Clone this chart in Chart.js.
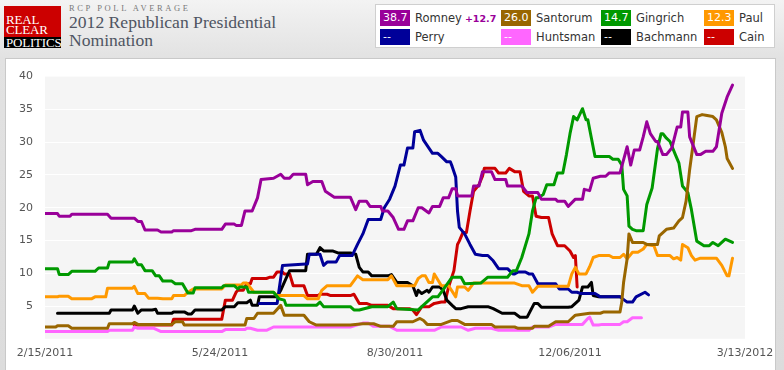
<!DOCTYPE html>
<html>
<head>
<meta charset="utf-8">
<script src="https://cdn.jsdelivr.net/npm/chart.js@4.4.1/dist/chart.umd.min.js"></script>
<style>
  html, body { margin:0; padding:0; }
  body { width:784px; height:370px; overflow:hidden; position:relative;
         background: linear-gradient(#f3f3f3 0px, #e2e2e2 58px, #dcdcdc 370px);
         font-family: "DejaVu Sans", Verdana, sans-serif; }
  #logo { position:absolute; left:4px; top:6px; width:57px; height:42px; overflow:hidden; }
  #logo .red { background:#cc0000; height:31px; }
  #logo .blk { background:#000; height:11px; }
  #logo span { position:absolute; left:2px; color:#fff; font-family:"Liberation Serif", serif; font-size:13px; line-height:10px; letter-spacing:-0.2px; }
  #kicker { position:absolute; left:69px; top:3px; font-family:"Liberation Serif", serif; font-size:8.5px; letter-spacing:2.6px; color:#7a7a7a; }
  #title { position:absolute; left:69px; top:13px; font-family:"Liberation Serif", serif; font-size:17.6px; line-height:18px; color:#4f5562; }
  #legend { position:absolute; left:375px; top:4px; width:400px; height:44px; background:#fff; border:1px solid #cfcfcf; box-sizing:border-box; }
  .li { position:absolute; height:16px; font-size:11.5px; color:#333; white-space:nowrap; }
  .li .box { position:absolute; left:0; top:0; width:30px; height:16px; color:#fff; font-size:11px; line-height:16px; padding-left:3px; box-sizing:border-box; overflow:hidden; }
  .li .nm { position:absolute; left:35px; top:0; line-height:16px; }
  .li .chg { font-size:9.5px; font-weight:bold; margin-left:3px; }
  #panel { position:absolute; left:5px; top:58px; width:769px; height:330px; background:#fff; border:1px solid #c9c9c9; }
  #wrap { position:absolute; left:0; top:58px; width:784px; height:312px; }
</style>
</head>
<body>
<div id="logo">
  <div class="red"></div><div class="blk"></div>
  <span style="top:9px">REAL</span>
  <span style="top:19px">CLEAR</span>
  <span style="top:32px">POLITICS</span>
</div>
<div id="kicker">RCP POLL AVERAGE</div>
<div id="title">2012 Republican Presidential<br>Nomination</div>
<div id="legend"></div>
<div id="panel"></div>
<div id="wrap"><canvas id="c" width="784" height="312"></canvas></div>
<script>
// ---- Data (x = days since 2/15/2011, y = poll average %) ----
const tickDays   = [0, 98, 196, 294, 392];
const tickLabels = ["2/15/2011", "5/24/2011", "8/30/2011", "12/06/2011", "3/13/2012"];

const candidates   = ["Romney", "Santorum", "Gingrich", "Paul", "Perry", "Huntsman", "Bachmann", "Cain"];
const colors       = ["#990099", "#996600", "#009900", "#ff9900", "#000099", "#ff66ff", "#000000", "#cc0000"];
const latestValues = ["38.7", "26.0", "14.7", "12.3", "--", "--", "--", "--"];
const spreadText   = "+12.7";

const romney = [[0,19.1],[7,19.1],[8,18.7],[14,18.7],[15,19.0],[35,19.0],[37,18.4],[50,18.4],[52,17.9],[54,17.9],[56,16.6],[63,16.6],[65,16.3],[71,16.3],[72,16.5],[82,16.5],[84,16.7],[99,16.7],[101,17.5],[106,17.5],[107,17.3],[110,17.3],[112,19.5],[116,19.5],[119,21.5],[121,24.3],[128,24.5],[132,25.1],[134,24.5],[137,24.5],[139,25.1],[146,25.1],[147,23.5],[150,24.0],[155,24.0],[157,22.5],[162,21.6],[171,21.6],[174,19.7],[176,21.0],[180,21.0],[182,20.2],[188,20.2],[189,19.5],[192,19.5],[195,18.5],[198,16.7],[201,16.7],[203,18.0],[206,18.0],[209,20.0],[211,20.0],[215,19.2],[217,20.2],[221,20.2],[223,21.5],[226,21.5],[228,22.9],[230,22.9],[231,21.8],[239,21.8],[240,23.3],[243,23.3],[245,25.5],[250,25.5],[252,24.3],[258,24.3],[259,23.3],[267,23.3],[270,22.3],[276,22.3],[278,21.3],[286,21.3],[287,21.0],[291,21.0],[293,20.2],[297,21.3],[301,21.3],[302,22.8],[305,22.6],[307,24.5],[311,24.8],[314,24.8],[316,25.3],[322,25.3],[324,27.3],[326,29.3],[328,26.5],[330,28.8],[333,28.8],[335,30.8],[337,33.1],[339,31.3],[342,30.1],[343,30.1],[346,28.1],[348,28.1],[351,29.1],[354,32.3],[356,32.3],[357,34.6],[360,34.6],[361,30.8],[365,28.1],[367,28.1],[370,28.6],[374,28.6],[376,29.3],[379,34.4],[382,36.9],[385,38.7]];
const santorum = [[0,1.8],[6,1.8],[7,2.0],[13,2.0],[15,1.6],[35,1.6],[36,2.3],[49,2.3],[50,2.5],[52,2.2],[71,2.2],[73,2.6],[77,2.6],[78,2.1],[112,2.1],[113,3.1],[117,3.1],[119,3.9],[128,3.9],[132,5.1],[134,3.6],[145,3.6],[148,2.6],[152,2.1],[171,2.1],[178,2.3],[184,2.3],[188,1.9],[195,1.9],[197,2.6],[206,2.6],[210,3.1],[212,2.8],[214,2.2],[222,2.2],[228,2.8],[231,2.8],[235,2.2],[250,2.2],[252,1.8],[263,1.8],[265,1.6],[273,1.6],[274,1.9],[282,1.9],[286,2.6],[293,2.6],[297,3.6],[305,3.9],[311,3.9],[313,4.1],[322,4.1],[323,5.6],[324,8.6],[326,12.2],[327,16.0],[329,14.7],[335,14.7],[337,14.4],[343,14.4],[344,15.7],[348,16.7],[352,16.9],[355,18.0],[357,18.5],[359,21.0],[361,25.8],[363,29.8],[365,33.9],[368,34.2],[370,34.1],[374,33.9],[376,33.4],[379,31.5],[381,29.3],[382,27.5],[385,26.0]];
const gingrich = [[0,10.7],[7,10.7],[8,9.8],[13,9.8],[15,10.3],[28,10.3],[30,10.8],[35,10.8],[36,11.7],[49,11.7],[50,12.2],[52,11.3],[54,11.3],[56,10.4],[60,10.4],[62,9.6],[64,9.6],[66,8.8],[71,8.8],[73,8.4],[77,8.4],[80,7.0],[83,7.0],[84,7.8],[99,7.8],[100,8.1],[106,8.1],[108,7.6],[109,7.9],[113,7.9],[114,7.1],[128,7.1],[131,6.1],[134,5.9],[135,5.1],[152,5.1],[154,5.6],[156,4.9],[171,4.9],[173,4.4],[176,4.4],[183,4.9],[192,4.9],[195,5.6],[197,4.6],[209,4.4],[213,5.4],[217,6.4],[220,6.4],[224,7.9],[228,9.4],[233,9.4],[235,8.4],[244,8.5],[248,9.4],[259,9.4],[262,10.4],[264,10.4],[267,12.4],[271,16.0],[273,19.5],[275,21.5],[276,21.5],[279,22.0],[281,23.5],[285,23.5],[287,25.3],[290,25.3],[292,28.1],[294,31.3],[296,33.9],[298,33.4],[301,35.1],[303,33.4],[304,33.4],[306,30.6],[308,27.8],[316,27.8],[318,27.4],[321,27.4],[323,26.5],[324,22.8],[326,21.8],[327,17.2],[329,16.7],[331,16.5],[335,16.5],[337,20.5],[340,23.0],[343,29.0],[345,31.3],[346,31.3],[348,30.6],[350,30.1],[353,28.1],[355,26.8],[357,23.3],[360,22.3],[362,19.7],[365,14.9],[369,14.2],[372,14.2],[374,14.7],[377,14.2],[381,15.2],[385,14.7]];
const paul     = [[0,6.4],[7,6.4],[8,6.5],[13,6.5],[15,6.1],[26,6.1],[28,6.4],[34,6.4],[35,7.7],[49,7.7],[50,8.0],[52,6.9],[56,6.9],[58,6.2],[63,6.2],[66,6.1],[71,6.1],[72,6.6],[78,6.6],[80,7.1],[83,7.6],[99,7.6],[101,8.2],[110,8.2],[111,8.5],[113,8.5],[117,7.1],[128,7.1],[130,6.6],[145,6.6],[147,6.1],[153,6.1],[155,7.4],[158,8.1],[171,8.1],[175,9.6],[178,9.0],[192,9.0],[194,9.6],[197,8.1],[207,8.1],[209,9.2],[211,9.6],[213,9.6],[215,8.6],[217,8.6],[218,9.9],[222,8.1],[226,8.1],[230,6.4],[231,7.9],[235,7.9],[237,7.4],[240,8.5],[263,8.5],[267,8.1],[271,8.1],[273,7.1],[276,8.0],[293,8.0],[295,9.9],[297,10.9],[299,9.9],[303,9.9],[305,11.0],[307,12.4],[310,12.7],[316,12.7],[318,12.4],[322,12.4],[324,12.9],[326,12.2],[329,13.2],[332,13.2],[335,13.7],[337,14.4],[341,14.2],[343,12.7],[350,12.7],[352,12.2],[354,12.4],[356,12.0],[357,14.4],[360,13.9],[362,12.7],[364,12.0],[367,12.3],[376,12.3],[379,11.2],[382,9.6],[383,9.6],[385,12.3]];
const perry    = [[120,5.4],[130,5.4],[133,11.2],[146,11.4],[147,11.4],[148,12.9],[154,12.9],[156,11.2],[158,11.7],[163,11.7],[165,12.7],[172,12.7],[175,14.4],[178,16.0],[181,18.2],[188,18.2],[190,20.0],[193,21.3],[196,23.3],[199,26.5],[201,26.5],[203,29.1],[206,29.1],[207,31.6],[210,31.8],[212,30.3],[215,29.1],[217,28.3],[220,28.3],[222,27.8],[225,27.0],[227,27.0],[228,26.3],[230,24.7],[231,19.5],[232,17.0],[235,16.0],[238,14.4],[241,12.9],[245,12.7],[248,12.7],[251,11.9],[254,10.7],[259,10.7],[262,9.9],[263,9.9],[265,10.2],[269,10.2],[271,9.9],[273,9.9],[276,8.4],[286,8.4],[288,7.6],[293,7.6],[295,7.1],[298,7.1],[300,6.9],[308,6.9],[311,6.4],[322,6.4],[326,5.6],[329,5.6],[331,6.4],[336,7.1],[338,6.7]];
const huntsman = [[0,1.1],[35,1.1],[36,1.3],[49,1.3],[50,1.8],[52,1.6],[61,1.6],[65,1.1],[99,1.1],[101,1.4],[112,1.4],[113,1.6],[115,1.6],[119,1.3],[124,1.3],[128,1.8],[171,1.8],[178,2.4],[181,2.4],[184,1.9],[193,1.9],[197,1.3],[218,1.3],[222,1.8],[233,1.8],[237,1.3],[241,1.6],[250,1.6],[254,1.3],[271,1.3],[273,1.8],[282,1.8],[286,2.2],[301,2.2],[304,3.1],[305,3.3],[307,2.1],[310,2.1],[312,2.2],[322,2.2],[324,2.6],[326,2.6],[329,3.2],[334,3.2]];
const bachmann = [[7,3.9],[36,3.9],[37,4.4],[49,4.4],[50,5.0],[52,3.9],[54,4.4],[60,4.4],[62,4.5],[63,3.9],[71,3.9],[72,4.1],[78,4.1],[80,3.8],[82,3.8],[84,4.4],[99,4.4],[101,4.9],[106,4.9],[108,5.5],[113,5.5],[115,5.9],[116,5.1],[119,5.1],[120,6.4],[130,6.4],[132,7.4],[135,9.2],[137,10.4],[146,10.4],[147,12.9],[152,12.9],[154,13.9],[156,13.4],[161,13.4],[164,13.1],[171,13.1],[174,12.9],[176,10.9],[178,10.2],[181,10.2],[183,9.6],[192,9.6],[194,9.8],[197,8.6],[203,8.6],[206,8.1],[208,6.6],[209,7.4],[211,6.9],[214,7.4],[215,7.1],[217,7.9],[221,7.9],[223,7.4],[225,5.9],[228,5.1],[230,4.6],[233,4.6],[237,4.9],[248,4.9],[251,4.6],[256,3.9],[263,3.9],[266,3.3],[270,3.3],[274,5.4],[276,5.4],[278,4.8],[293,4.8],[295,4.9],[299,5.9],[301,7.9],[304,7.9],[306,8.6],[307,6.6],[310,6.4],[322,6.4]];
const cain     = [[50,2.1],[71,2.1],[72,3.0],[99,3.0],[101,5.9],[105,5.9],[107,7.1],[108,7.4],[111,7.4],[113,8.4],[115,8.4],[116,9.2],[124,9.2],[126,9.4],[128,9.4],[130,10.2],[133,10.2],[134,9.9],[137,9.9],[139,8.1],[145,8.1],[147,6.6],[153,6.6],[154,6.8],[158,6.8],[160,6.6],[171,6.6],[173,6.8],[176,5.4],[180,5.4],[183,5.1],[192,5.1],[195,4.6],[204,4.6],[206,4.4],[208,3.7],[211,4.9],[215,4.9],[218,5.4],[222,5.6],[224,5.6],[226,7.9],[229,10.4],[231,14.4],[232,14.9],[234,16.2],[236,16.2],[238,19.5],[240,22.5],[243,23.5],[245,24.8],[246,26.0],[252,26.0],[254,25.3],[258,25.3],[260,26.0],[263,25.5],[266,25.5],[268,22.5],[271,21.8],[273,21.8],[275,18.7],[278,18.5],[282,18.5],[284,16.0],[287,14.2],[291,14.2],[294,13.4],[296,12.4],[297,12.7],[298,7.9]];

const seriesData = [romney, santorum, gingrich, paul, perry, huntsman, bachmann, cain];

// ---- HTML legend ----
const legendEl = document.getElementById('legend');
const colX = [4, 125, 225, 328];
const rowY = [5, 24];
candidates.forEach((name, i) => {
  const d = document.createElement('div');
  d.className = 'li';
  d.style.left = colX[i % 4] + 'px';
  d.style.top = rowY[Math.floor(i / 4)] + 'px';
  const b = document.createElement('div');
  b.className = 'box';
  b.style.background = colors[i];
  b.textContent = latestValues[i];
  const n = document.createElement('div');
  n.className = 'nm';
  n.textContent = name;
  if (i === 0) {
    const s = document.createElement('span');
    s.className = 'chg';
    s.style.color = colors[0];
    s.textContent = spreadText;
    n.appendChild(s);
  }
  d.appendChild(b); d.appendChild(n);
  legendEl.appendChild(d);
});

// ---- Chart ----
const bgPlugin = {
  id: 'plotbg',
  beforeDraw(chart) {
    const a = chart.chartArea, ctx = chart.ctx;
    ctx.save();
    ctx.fillStyle = '#f5f5f5';
    ctx.fillRect(a.left, a.top, a.right - a.left, a.bottom - a.top);
    ctx.restore();
  }
};

new Chart(document.getElementById('c'), {
  type: 'line',
  data: {
    datasets: seriesData.map((s, i) => ({
      label: candidates[i],
      data: s.map(p => ({ x: p[0], y: p[1] })),
      borderColor: colors[i],
      backgroundColor: colors[i],
      borderWidth: 3,
      pointRadius: 0,
      tension: 0,
      fill: false,
      borderJoinStyle: 'round',
      borderCapStyle: 'round'
    }))
  },
  options: {
    responsive: false,
    animation: false,
    layout: { padding: { left: 0, right: 39, top: 17, bottom: 0 } },
    plugins: { legend: { display: false }, tooltip: { enabled: false } },
    scales: {
      x: {
        type: 'linear', min: 0, max: 392,
        grid: { display: false, drawTicks: false },
        border: { display: false },
        afterBuildTicks: (scale) => { scale.ticks = tickDays.map(v => ({ value: v })); },
        afterFit: (scale) => { scale.height = 31.2; },
        ticks: {
          autoSkip: false, maxRotation: 0, padding: 8,
          color: '#555', font: { family: 'DejaVu Sans', size: 11 },
          callback: (v) => { const k = tickDays.indexOf(v); return k >= 0 ? tickLabels[k] : ''; }
        }
      },
      y: {
        min: 0, max: 40,
        grid: { color: (c) => c.tick.value === 0 || c.tick.value === 40 ? 'rgba(0,0,0,0)' : '#ffffff', lineWidth: 1, drawTicks: false },
        border: { display: false },
        afterFit: (scale) => { scale.width = 45; },
        ticks: {
          stepSize: 5, padding: 12,
          color: '#555', font: { family: 'DejaVu Sans', size: 11 },
          callback: (v) => v === 0 ? '' : String(v)
        }
      }
    }
  },
  plugins: [bgPlugin]
});
</script>
</body>
</html>
